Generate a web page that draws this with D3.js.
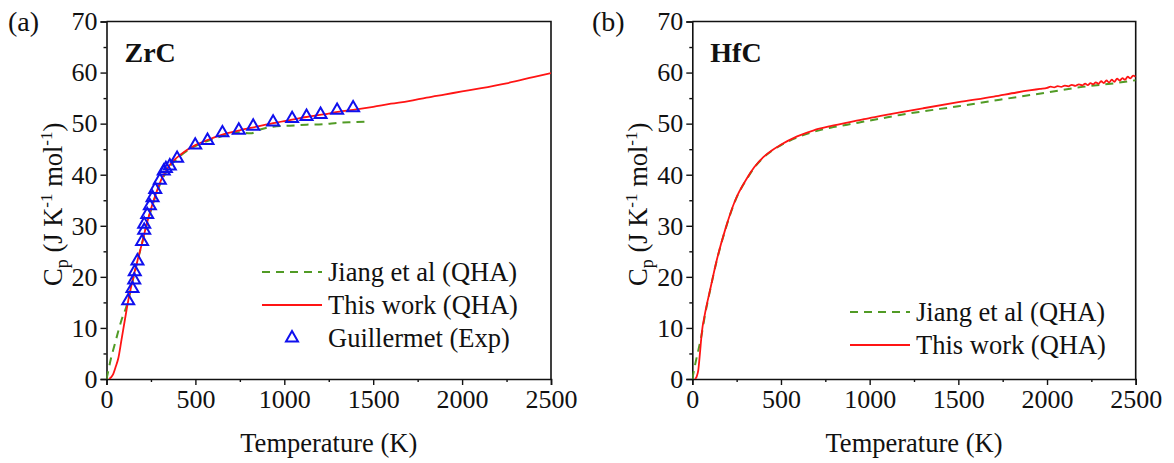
<!DOCTYPE html>
<html>
<head>
<meta charset="utf-8">
<script src="https://cdn.jsdelivr.net/npm/d3@7"></script>
<style>
  html, body { margin: 0; padding: 0; background: #fff; }
  svg { display: block; }
  svg text { font-family: "Liberation Serif", "Times New Roman", Times, "DejaVu Serif", serif; }
</style>
</head>
<body>
<svg id="chart" width="1174" height="463"></svg>
<script>
// ---- Heat capacity data (T in K, Cp in J K^-1 mol^-1) ----

// ZrC, this work (QHA)
const zrcWorkT  = [15, 25, 37, 50, 66, 84, 103, 122, 150, 175, 200, 225, 250, 281, 310, 337, 370, 412, 450, 500, 575, 656, 750, 844, 937, 1031, 1125, 1219, 1300, 1406, 1500, 1600, 1700, 1800, 1900, 2000, 2100, 2250, 2400, 2500];
const zrcWorkCp = [0, 0.3, 0.9, 2.2, 4.0, 7.6, 11.5, 15.3, 19.8, 23.3, 26.6, 30.2, 33.3, 36.6, 39.2, 40.9, 42.5, 43.8, 44.8, 45.8, 46.9, 47.9, 48.7, 49.4, 50.1, 50.7, 51.3, 51.8, 52.3, 52.8, 53.3, 53.9, 54.4, 55.1, 55.7, 56.3, 56.9, 57.9, 59.1, 59.9];

// ZrC, Jiang et al (QHA)
const zrcJiangT  = [0, 10, 25, 45, 65, 85, 110, 130, 150, 175, 200, 225, 250, 281, 310, 337, 370, 412, 450, 500, 575, 656, 750, 810, 870, 937, 1031, 1125, 1219, 1312, 1400, 1460];
const zrcJiangCp = [0, 1.6, 4.0, 6.6, 9.2, 11.6, 14.0, 16.5, 19.6, 23.2, 26.6, 30.0, 33.0, 36.3, 38.8, 40.6, 42.2, 43.6, 44.6, 45.6, 46.7, 47.6, 48.3, 48.1, 48.9, 49.4, 49.6, 49.8, 49.9, 50.2, 50.3, 50.4];

// ZrC, Guillermet (Exp)
const zrcExpT  = [122, 146, 156, 159, 174, 200, 212, 212, 229, 244, 259, 274, 300, 322, 334, 356, 397, 499, 568, 652, 744, 825, 937, 1044, 1125, 1204, 1297, 1387];
const zrcExpCp = [15.3, 17.7, 19.4, 21.0, 23.1, 26.9, 29.1, 30.3, 32.2, 33.9, 35.5, 37.1, 38.9, 40.7, 41.2, 41.7, 43.2, 45.8, 46.7, 48.2, 48.7, 49.5, 50.3, 51.0, 51.4, 51.8, 52.6, 53.1];

// HfC, this work (QHA) -- noisy above ~2000 K
const hfcWorkT  = [15, 25, 34, 43, 53, 72, 100, 138, 185, 242, 308, 350, 402, 450, 496, 591, 685, 779, 874, 968, 1062, 1171, 1300, 1500, 1700, 1829, 1900, 1960,
                   2000, 2020, 2040, 2060, 2080, 2100, 2120, 2140, 2160, 2180, 2200, 2215, 2230, 2245, 2260, 2275, 2290, 2305, 2320, 2335, 2350, 2365, 2380, 2395, 2410, 2425, 2440, 2455, 2470, 2485, 2500];
const hfcWorkCp = [0, 0.5, 1.8, 5.0, 8.9, 12.9, 17.4, 23.3, 29.2, 35.0, 39.3, 41.5, 43.5, 44.8, 45.8, 47.5, 48.7, 49.5, 50.2, 50.9, 51.5, 52.2, 53.0, 54.2, 55.3, 56.1, 56.5, 56.8,
                   57.0, 57.25, 57.1, 57.35, 57.2, 57.45, 57.3, 57.6, 57.4, 57.7, 57.5, 57.85, 57.55, 57.95, 57.7, 58.1, 57.8, 58.3, 57.95, 58.45, 58.05, 58.6, 58.2, 58.8, 58.45, 58.9, 58.6, 59.2, 58.85, 59.4, 59.2];

// HfC, Jiang et al (QHA)
const hfcJiangT  = [0, 10, 22, 35, 50, 72, 100, 138, 185, 242, 308, 350, 402, 450, 496, 591, 685, 779, 874, 968, 1062, 1171, 1300, 1500, 1700, 1829, 2000, 2200, 2400, 2500];
const hfcJiangCp = [0, 1.8, 3.8, 5.8, 8.2, 12.6, 17.3, 23.2, 29.1, 34.9, 39.2, 41.4, 43.4, 44.7, 45.7, 47.3, 48.4, 49.2, 49.8, 50.4, 51.0, 51.7, 52.4, 53.4, 54.5, 55.2, 56.1, 57.2, 58.0, 58.5];

// Axis ticks
const xMajor = [0, 500, 1000, 1500, 2000, 2500];
const xMinor = [250, 750, 1250, 1750, 2250];
const yMajor = [0, 10, 20, 30, 40, 50, 60, 70];
const yMinor = [5, 15, 25, 35, 45, 55, 65];

const colWork = "#ff1414";
const colJiang = "#519b25";
const colExp = "#1010ee";
const serif = "'Liberation Serif', 'Times New Roman', Times, 'DejaVu Serif', serif";

const svg = d3.select("#chart");
const plotTop = 21.5, plotBottom = 379;

function zip(xs, ys) { return xs.map((x, i) => [x, ys[i]]); }

function label(sel, size) {
  return sel.attr("font-family", serif).attr("font-size", size).attr("fill", "#111");
}

function panel(opts) {
  const x = d3.scaleLinear().domain([0, 2500]).range([opts.left, opts.right]);
  const y = d3.scaleLinear().domain([0, 70]).range([plotBottom, plotTop]);
  const g = svg.append("g");

  // frame (top and right)
  g.append("path")
    .attr("d", `M${opts.left},${plotTop}H${opts.right}V${plotBottom}`)
    .attr("fill", "none").attr("stroke", "#111").attr("stroke-width", 1.6);

  g.append("g").attr("transform", `translate(0,${plotBottom})`)
    .call(d3.axisBottom(x).tickValues(xMajor).tickSize(6).tickPadding(5).tickFormat(d3.format("d")));
  g.append("g").attr("transform", `translate(0,${plotBottom})`)
    .call(d3.axisBottom(x).tickValues(xMinor).tickSize(3).tickFormat(""))
    .call(s => s.select(".domain").remove());
  g.append("g").attr("transform", `translate(${opts.left},0)`)
    .call(d3.axisLeft(y).tickValues(yMajor).tickSize(6).tickPadding(3).tickFormat(d3.format("d")));
  g.append("g").attr("transform", `translate(${opts.left},0)`)
    .call(d3.axisLeft(y).tickValues(yMinor).tickSize(3).tickFormat(""))
    .call(s => s.select(".domain").remove());

  g.selectAll(".domain").attr("stroke", "#111").attr("stroke-width", 1.6);
  g.selectAll(".tick line").attr("stroke", "#111").attr("stroke-width", 1.4);
  label(g.selectAll(".tick text"), 26);

  // axis titles
  label(g.append("text"), 26.5)
    .attr("x", (opts.left + opts.right) / 2).attr("y", 452)
    .attr("text-anchor", "middle")
    .text("Temperature (K)");

  const yt = label(g.append("text"), 26.5)
    .attr("transform", `translate(${opts.left - 45},${(plotTop + plotBottom) / 2 + 4}) rotate(-90)`)
    .attr("text-anchor", "middle");
  yt.append("tspan").text("C");
  yt.append("tspan").attr("font-size", 18).attr("dy", 6).text("p");
  yt.append("tspan").attr("dy", -6).text(" (J K");
  yt.append("tspan").attr("font-size", 17).attr("dy", -10).text("-1");
  yt.append("tspan").attr("dy", 10).text(" mol");
  yt.append("tspan").attr("font-size", 17).attr("dy", -10).text("-1");
  yt.append("tspan").attr("dy", 10).text(")");

  // panel tag and compound name
  label(g.append("text"), 28).attr("x", opts.tagX).attr("y", 31).text(opts.tag);
  label(g.append("text"), 28).attr("x", opts.left + 18).attr("y", 62)
    .attr("font-weight", "bold").text(opts.name);

  const line = d3.line().x(d => x(d[0])).y(d => y(d[1])).curve(d3.curveMonotoneX);

  const clip = "clip-" + opts.name;
  svg.append("clipPath").attr("id", clip).append("rect")
    .attr("x", opts.left).attr("y", plotTop).attr("width", opts.right - opts.left).attr("height", plotBottom - plotTop);

  const plot = g.append("g").attr("clip-path", `url(#${clip})`);
  plot.append("path").datum(opts.jiang).attr("d", line)
    .attr("fill", "none").attr("stroke", colJiang).attr("stroke-width", 2).attr("stroke-dasharray", "8,6");
  plot.append("path").datum(opts.work).attr("d", line)
    .attr("fill", "none").attr("stroke", colWork).attr("stroke-width", 1.8);

  const tri = d3.symbol().type(d3.symbolTriangle).size(62);
  if (opts.exp) {
    g.selectAll(".exp").data(opts.exp).join("path")
      .attr("transform", d => `translate(${x(d[0])},${y(d[1])})`)
      .attr("d", tri).attr("fill", "none").attr("stroke", colExp).attr("stroke-width", 2);
  }

  // legend
  const lg = g.append("g");
  opts.legend.forEach((item, i) => {
    const cy = opts.legY + i * 33;
    const lx0 = opts.legX, lx1 = opts.legX + 60;
    if (item.kind === "dash") {
      lg.append("line").attr("x1", lx0).attr("x2", lx1).attr("y1", cy).attr("y2", cy)
        .attr("stroke", colJiang).attr("stroke-width", 2).attr("stroke-dasharray", "8,6");
    } else if (item.kind === "line") {
      lg.append("line").attr("x1", lx0).attr("x2", lx1).attr("y1", cy).attr("y2", cy)
        .attr("stroke", colWork).attr("stroke-width", 1.8);
    } else {
      lg.append("path").attr("transform", `translate(${(lx0 + lx1) / 2},${cy})`)
        .attr("d", tri).attr("fill", "none").attr("stroke", colExp).attr("stroke-width", 2);
    }
    label(lg.append("text"), 26.5).attr("x", lx1 + 6).attr("y", cy + 9).text(item.label);
  });
}

panel({
  left: 106.5, right: 551, tag: "(a)", tagX: 8, name: "ZrC",
  work: zip(zrcWorkT, zrcWorkCp), jiang: zip(zrcJiangT, zrcJiangCp), exp: zip(zrcExpT, zrcExpCp),
  legX: 262, legY: 272,
  legend: [{kind: "dash", label: "Jiang et al (QHA)"}, {kind: "line", label: "This work (QHA)"}, {kind: "tri", label: "Guillermet (Exp)"}]
});

panel({
  left: 692.3, right: 1135.7, tag: "(b)", tagX: 592, name: "HfC",
  work: zip(hfcWorkT, hfcWorkCp), jiang: zip(hfcJiangT, hfcJiangCp), exp: null,
  legX: 850, legY: 312,
  legend: [{kind: "dash", label: "Jiang et al (QHA)"}, {kind: "line", label: "This work (QHA)"}]
});
</script>
</body>
</html>
